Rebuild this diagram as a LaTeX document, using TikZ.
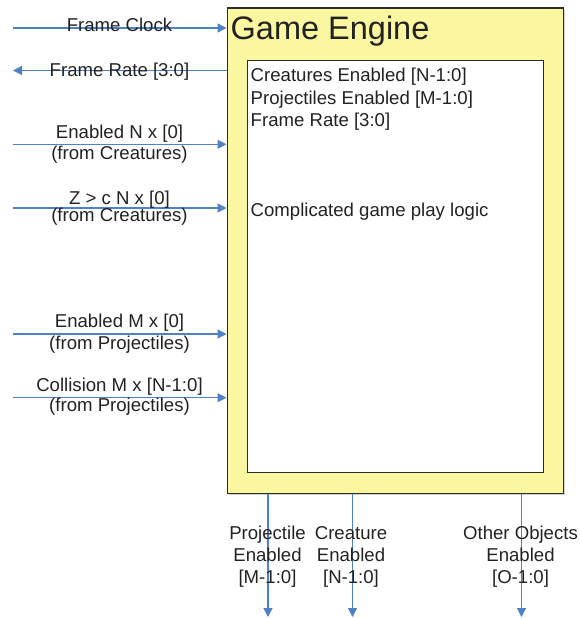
\documentclass[tikz,border=0pt]{standalone}
\usepackage{fontspec}
\setmainfont{Liberation Sans}
\usetikzlibrary{arrows.meta}
\definecolor{engfill}{HTML}{FAF7A0}
\definecolor{wire}{HTML}{4F81C8}
\definecolor{ink}{HTML}{222222}
\definecolor{edge}{HTML}{2A2A2A}
\tikzset{
  lbl/.style={font=\fontsize{18.6}{22}\selectfont, text=ink, inner sep=0pt, anchor=base},
  lbll/.style={lbl, anchor=base west},
  wirearrow/.style={draw=wire, line width=1.3pt, -{Triangle[length=9pt,width=9pt]}},
  enginebox/.style={draw=edge, line width=1.3pt, fill=engfill, inner sep=0pt, anchor=north west},
  logicbox/.style={draw=edge, line width=1.1pt, fill=white, inner sep=0pt, anchor=north west},
}
\begin{document}
\begin{tikzpicture}[x=1pt,y=-1pt]
\useasboundingbox (0,0) rectangle (579,618);
% shadow
\fill[gray!35] (228.5,9.5) rectangle (565,494.5);
% boxes
\node[enginebox, minimum width=336.5pt, minimum height=485pt] (ge) at (226.5,7.5) {};
\node[logicbox, minimum width=296pt, minimum height=411.5pt] (logic) at (246.5,60) {};
\node[lbll, font=\fontsize{32.5}{38}\selectfont] (title) at (230.5,39.5) {Game Engine};
% inner text
\node[lbll] (t1) at (250.5,81.5) {Creatures Enabled [N-1:0]};
\node[lbll] (t2) at (250.5,104) {Projectiles Enabled [M-1:0]};
\node[lbll] (t3) at (250.5,126.3) {Frame Rate [3:0]};
\node[lbll] (t4) at (250.5,216.7) {Complicated game play logic};
% left free ends
\coordinate (fc) at (13,28);
\coordinate (fr) at (13,70.5);
\coordinate (en) at (13,144.3);
\coordinate (zc) at (13,208);
\coordinate (em) at (13,334);
\coordinate (co) at (13,397.7);
\draw[wirearrow] (fc) -- (ge.west |- fc);
\draw[wirearrow] (ge.west |- fr) -- (fr);
\draw[wirearrow] (en) -- (ge.west |- en);
\draw[wirearrow] (zc) -- (ge.west |- zc);
\draw[wirearrow] (em) -- (ge.west |- em);
\draw[wirearrow] (co) -- (ge.west |- co);
% left labels
\node[lbl] (lfc) at (119.5,32) {Frame Clock};
\node[lbl] (lfr) at (119.5,76) {Frame Rate [3:0]};
\node[lbl] (len1) at (119.5,138.5) {Enabled N x [0]};
\node[lbl] (len2) at (119.5,159.7) {(from Creatures)};
\node[lbl] (lzc1) at (119.5,204) {Z > c N x [0]};
\node[lbl] (lzc2) at (119.5,221.5) {(from Creatures)};
\node[lbl] (lem1) at (119.5,327.7) {Enabled M x [0]};
\node[lbl] (lem2) at (119.5,349.5) {(from Projectiles)};
\node[lbl] (lco1) at (119.5,391.7) {Collision M x [N-1:0]};
\node[lbl] (lco2) at (119.5,411.5) {(from Projectiles)};
% bottom free ends
\coordinate (pj) at (268,617);
\coordinate (cr) at (352.5,617);
\coordinate (oo) at (521.5,617);
\draw[wirearrow] (ge.south -| pj) -- (pj);
\draw[wirearrow] (ge.south -| cr) -- (cr);
\draw[wirearrow] (ge.south -| oo) -- (oo);
% bottom labels
\node[lbl] (bp1) at (267.5,539.5) {Projectile};
\node[lbl] (bp2) at (267.5,561.5) {Enabled};
\node[lbl] (bp3) at (267.5,583.5) {[M-1:0]};
\node[lbl] (bc1) at (351,539.5) {Creature};
\node[lbl] (bc2) at (351,561.5) {Enabled};
\node[lbl] (bc3) at (351,583.5) {[N-1:0]};
\node[lbl] (bo1) at (520.5,539.5) {Other Objects};
\node[lbl] (bo2) at (520.5,561.5) {Enabled};
\node[lbl] (bo3) at (520.5,583.5) {[O-1:0]};
\end{tikzpicture}
\end{document}
